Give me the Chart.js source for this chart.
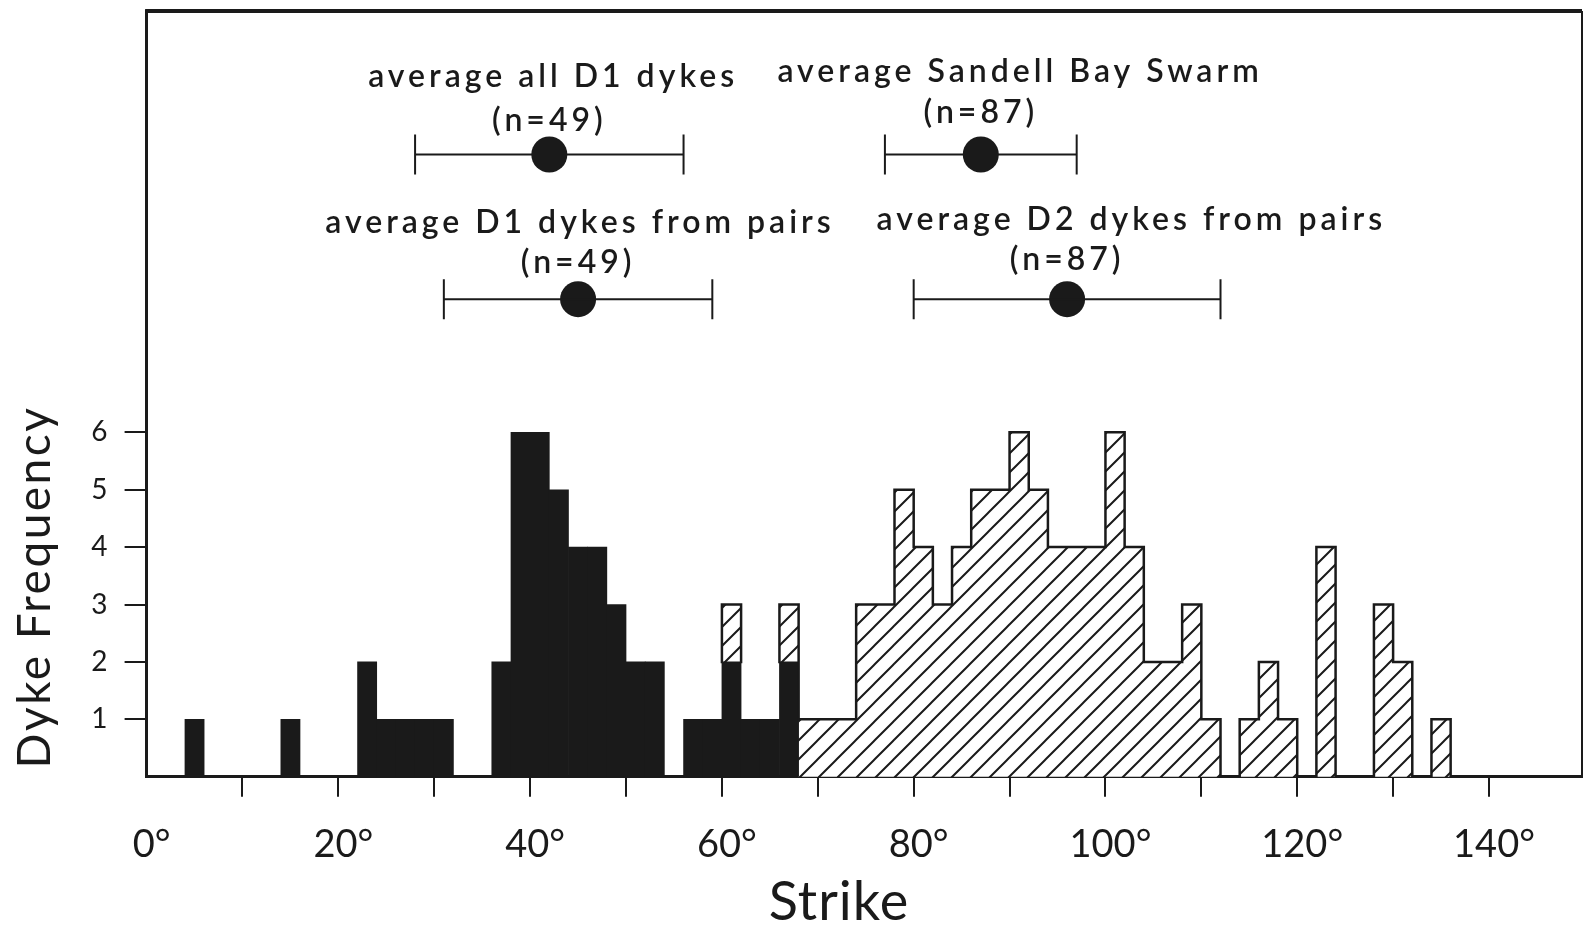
<!DOCTYPE html>
<html>
<head>
<meta charset="utf-8">
<script src="https://cdn.jsdelivr.net/npm/chart.js@4.4.1/dist/chart.umd.min.js"></script>
<style>
  html, body { margin: 0; padding: 0; background: #fff; }
  #wrap { width: 1584px; height: 925px; position: relative; }
</style>
</head>
<body>
<div id="wrap"><canvas id="strikeChart"></canvas></div>
<script>
// histogram, 2 degree bins keyed by the bin start
const d1BinStarts = [4, 14, 22, 24, 26, 28, 30, 36, 38, 40, 42, 44, 46, 48, 50, 52, 56, 58, 60, 62, 64, 66];
const d1Counts    = [1, 1, 2, 1, 1, 1, 1, 2, 6, 6, 5, 4, 4, 3, 2, 2, 1, 1, 2, 1, 1, 2];
const d2BinStarts = [60, 66, 68, 70, 72, 74, 76, 78, 80, 82, 84, 86, 88, 90, 92, 94, 96, 98, 100, 102, 104, 106, 108, 110, 114, 116, 118, 122, 128, 130, 134];
const d2Counts    = [1, 1, 1, 1, 1, 3, 3, 5, 4, 3, 4, 5, 5, 6, 5, 4, 4, 4, 6, 4, 2, 2, 3, 1, 1, 2, 1, 4, 3, 2, 1];
const binWidth = 2;

// averages with their ranges (degrees)
const avgNames = ['average all D1 dykes', 'average Sandell Bay Swarm', 'average D1 dykes from pairs', 'average D2 dykes from pairs'];
const avgN     = [49, 87, 49, 87];
const avgMean  = [42, 87, 45, 96];
const avgLow   = [28, 77, 31, 80];
const avgHigh  = [56, 97, 59, 112];

const xTickValues = [0, 10, 20, 30, 40, 50, 60, 70, 80, 90, 100, 110, 120, 130, 140];
const yTickValues = [1, 2, 3, 4, 5, 6];

// where the average rows sit (in frequency units, upper empty part of the plot)
const rowY      = [10.84, 10.84, 8.32, 8.32];
const nameX     = [42.4, 91.1, 45.2, 102.7];
const nameY     = [12.02, 12.10, 9.47, 9.52];
const countY    = [11.25, 11.39, 8.77, 8.83];

const ink = '#1a1a1a';
const FONT = 'Lato, "Noto Sans", sans-serif';
const Y_MAX = 13.34;

function makeHatch() {
  const s = 19;
  const c = document.createElement('canvas');
  c.width = s; c.height = s;
  const g = c.getContext('2d');
  g.fillStyle = '#fff';
  g.fillRect(0, 0, s, s);
  g.strokeStyle = ink;
  g.lineWidth = 2;
  g.beginPath();
  g.moveTo(0, s); g.lineTo(s, 0);
  g.moveTo(-s / 2, s / 2); g.lineTo(s / 2, -s / 2);
  g.moveTo(s / 2, s * 1.5); g.lineTo(s * 1.5, s / 2);
  g.stroke();
  return g.createPattern(c, 'repeat');
}

// outline around the hatched part only (no inner bin lines)
const d2Outline = {
  id: 'd2Outline',
  afterDatasetsDraw(chart) {
    const meta = chart.getDatasetMeta(1);
    const ctx = chart.ctx;
    const byStart = new Map();
    meta.data.forEach((bar, i) => byStart.set(d2BinStarts[i], bar));
    ctx.save();
    ctx.strokeStyle = ink;
    ctx.lineWidth = 2.5;
    ctx.lineCap = 'square';
    ctx.beginPath();
    meta.data.forEach((bar, i) => {
      const l = bar.x - bar.width / 2, r = bar.x + bar.width / 2;
      ctx.moveTo(l, bar.y); ctx.lineTo(r, bar.y);
      const prev = byStart.get(d2BinStarts[i] - binWidth);
      ctx.moveTo(l, bar.y); ctx.lineTo(l, prev ? prev.y : bar.base);
      if (!byStart.has(d2BinStarts[i] + binWidth)) {
        ctx.moveTo(r, bar.y); ctx.lineTo(r, bar.base);
      }
    });
    ctx.stroke();
    ctx.restore();
  }
};

const labelsAndFrame = {
  id: 'labelsAndFrame',
  afterDraw(chart) {
    const {ctx, chartArea: a} = chart;
    const x = chart.scales.x, ya = chart.scales.yAnn;
    ctx.save();
    // frame top + right
    ctx.strokeStyle = ink;
    ctx.lineWidth = 4;
    ctx.beginPath();
    ctx.moveTo(a.left - 1.5, a.top); ctx.lineTo(a.right, a.top);
    ctx.stroke();
    ctx.lineWidth = 2;
    ctx.beginPath();
    ctx.moveTo(a.right, a.top); ctx.lineTo(a.right, a.bottom);
    ctx.stroke();

    ctx.fillStyle = ink;
    ctx.textAlign = 'center';
    ctx.textBaseline = 'alphabetic';
    ctx.font = '600 32px ' + FONT;
    ctx.letterSpacing = '4px';
    avgNames.forEach((name, i) => {
      ctx.fillText(name, x.getPixelForValue(nameX[i]), ya.getPixelForValue(nameY[i]));
      ctx.fillText('(n=' + avgN[i] + ')', x.getPixelForValue(avgMean[i]), ya.getPixelForValue(countY[i]));
    });

    ctx.font = '54px ' + FONT;
    ctx.letterSpacing = '1px';
    ctx.fillText('Strike', 839, 920);

    ctx.font = '46px ' + FONT;
    ctx.letterSpacing = '2.5px';
    ctx.translate(50, 587);
    ctx.rotate(-Math.PI / 2);
    ctx.fillText('Dyke Frequency', 0, 0);
    ctx.restore();
  }
};

const hatch = makeHatch();

const rangeSets = avgMean.map((m, i) => ({
  type: 'line',
  yAxisID: 'yAnn',
  data: [{x: avgLow[i], y: rowY[i]}, {x: avgHigh[i], y: rowY[i]}],
  borderColor: ink,
  borderWidth: 2,
  pointStyle: 'line',
  pointRotation: 90,
  pointRadius: 20,
  pointBorderWidth: 2,
  pointBorderColor: ink,
  fill: false
}));

new Chart(document.getElementById('strikeChart'), {
  type: 'bar',
  data: {
    datasets: [
      {
        label: 'D1',
        data: d1BinStarts.map((s, i) => ({x: s + binWidth / 2, y: d1Counts[i]})),
        backgroundColor: ink,
        borderWidth: 0,
        barPercentage: 1,
        categoryPercentage: 1
      },
      {
        label: 'D2',
        data: d2BinStarts.map((s, i) => ({x: s + binWidth / 2, y: d2Counts[i]})),
        backgroundColor: hatch,
        borderWidth: 0,
        barPercentage: 1,
        categoryPercentage: 1
      },
      ...rangeSets,
      {
        type: 'line',
        yAxisID: 'yAnn',
        showLine: false,
        data: avgMean.map((m, i) => ({x: m, y: rowY[i]})),
        pointRadius: 18,
        pointBackgroundColor: ink,
        pointBorderColor: ink,
        pointBorderWidth: 0
      }
    ]
  },
  options: {
    responsive: true,
    maintainAspectRatio: false,
    animation: false,
    events: [],
    layout: { autoPadding: false, padding: { top: 11, right: 2, left: 0, bottom: 0 } },
    plugins: { legend: { display: false }, tooltip: { enabled: false } },
    scales: {
      x: {
        type: 'linear',
        min: 0,
        max: 149.7,
        stacked: true,
        offset: false,
        afterBuildTicks: s => { s.ticks = xTickValues.map(v => ({value: v})); },
        afterFit: s => { s.height = 148.3; s.paddingLeft = 0; s.paddingRight = 0; },
        grid: {
          offset: false,
          drawOnChartArea: false,
          tickLength: 20,
          lineWidth: 2,
          tickColor: c => (c.tick && c.tick.value === 0) ? 'rgba(0,0,0,0)' : ink
        },
        border: { display: true, color: ink, width: 3 },
        ticks: {
          autoSkip: false,
          maxRotation: 0,
          padding: 25,
          labelOffset: 5,
          color: ink,
          font: { family: FONT, size: 38 },
          callback: v => (v % 20 === 0 ? v + '°' : '')
        }
      },
      y: {
        min: 0,
        max: Y_MAX,
        stacked: true,
        afterBuildTicks: s => { s.ticks = yTickValues.map(v => ({value: v})); },
        afterFit: s => { s.width = 146.6; s.paddingTop = 0; s.paddingBottom = 0; },
        grid: { drawOnChartArea: false, tickLength: 22, lineWidth: 2, tickColor: ink },
        border: { display: true, color: ink, width: 3 },
        ticks: { padding: 17, color: ink, font: { family: FONT, size: 28 } }
      },
      yAnn: { type: 'linear', display: false, min: 0, max: Y_MAX }
    }
  },
  plugins: [d2Outline, labelsAndFrame]
});
</script>
</body>
</html>
